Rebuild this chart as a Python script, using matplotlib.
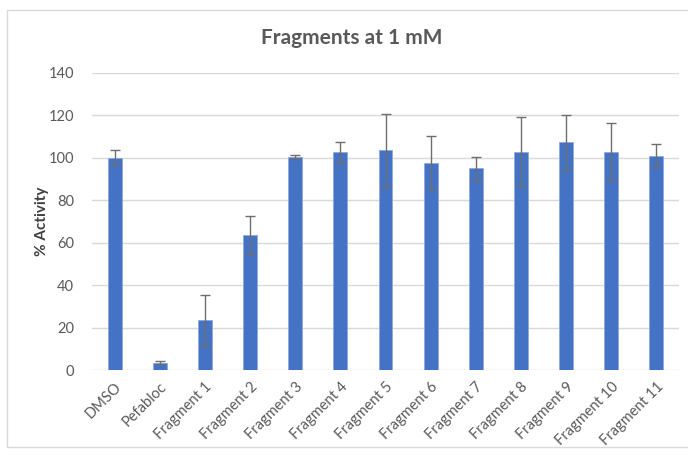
import matplotlib
matplotlib.use("Agg")
import matplotlib.pyplot as plt
from matplotlib.patches import Rectangle

categories = ["DMSO", "Pefabloc", "Fragment 1", "Fragment 2", "Fragment 3", "Fragment 4",
              "Fragment 5", "Fragment 6", "Fragment 7", "Fragment 8", "Fragment 9",
              "Fragment 10", "Fragment 11"]
activity = [100.0, 3.5, 23.5, 63.6, 100.3, 102.5, 103.4, 97.5, 95.0, 102.8, 107.3, 102.8, 101.0]
errors = [3.5, 0.9, 12.0, 9.1, 1.0, 5.0, 17.0, 12.5, 5.5, 16.2, 13.0, 13.4, 5.2]
yticks = [0, 20, 40, 60, 80, 100, 120, 140]

plt.rcParams['font.family'] = ['Lato', 'DejaVu Sans']

fig = plt.figure(figsize=(6.88, 4.55), dpi=100)
fig.patches.append(Rectangle((7/688, 8/455), 1.0, (447-10)/455, transform=fig.transFigure,
                             fill=False, edgecolor='#D9D9D9', linewidth=1.0))
ax = fig.add_axes([92/688, (455-370)/455, (679-92)/688, (370-72.7)/455])

x = list(range(len(categories)))
ax.bar(x, activity, width=0.31, color='#4472C4', edgecolor='#8FAADC', linewidth=0.6, zorder=3)
ax.errorbar(x, activity, yerr=errors, fmt='none', ecolor='#6E6E6E', elinewidth=1.0,
            capsize=3.5, capthick=1.0, zorder=4)

ax.set_ylim(0, 140)
ax.set_xlim(-0.5, len(categories) - 0.5)
ax.set_yticks(yticks)
ax.yaxis.grid(True, color='#D9D9D9', linewidth=1.0, zorder=0)
ax.set_axisbelow(True)
for s in ax.spines.values():
    s.set_visible(False)
ax.tick_params(axis='both', length=0, colors='#595959', labelsize=10.5)
ax.tick_params(axis='y', pad=13)
ax.set_xticks(x)
ax.set_xticklabels(categories, rotation=45, ha='right', rotation_mode='anchor')
ax.tick_params(axis='x', pad=7)

ax.set_ylabel('% Activity', fontsize=11, fontweight='bold', color='#404040')
ax.yaxis.set_label_coords((49 - 92) / 587, 0.5)
fig.text(352/688, 1 - 38/455, 'Fragments at 1 mM', ha='center', va='center',
         fontsize=15, fontweight='bold', color='#595959')

fig.savefig('out.png', dpi=100)
